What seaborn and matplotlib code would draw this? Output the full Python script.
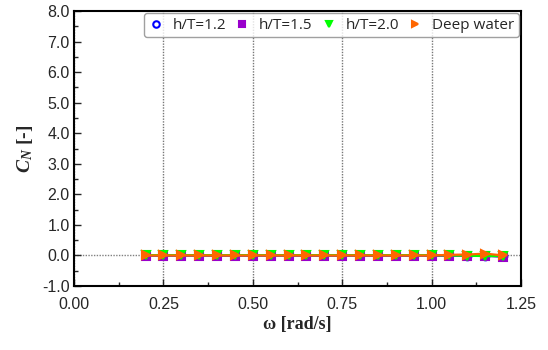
import numpy as np
import pandas as pd
import matplotlib
matplotlib.use("Agg")
import matplotlib.pyplot as plt
import seaborn as sns
from matplotlib.ticker import MultipleLocator, FormatStrFormatter

omega = [0.20, 0.25, 0.30, 0.35, 0.40, 0.45, 0.50, 0.55, 0.60, 0.65, 0.70,
         0.75, 0.80, 0.85, 0.90, 0.95, 1.00, 1.05, 1.10, 1.15, 1.20]
cn_12 = [0.0, 0.0, 0.0, 0.0, 0.0, 0.0, 0.0, 0.0, 0.0, 0.0, 0.0,
         0.0, 0.0, 0.0, 0.0, 0.0, 0.0, 0.0, -0.01, -0.01, -0.03]
cn_15 = [-0.01, -0.01, -0.01, -0.01, -0.01, -0.01, -0.01, -0.01, -0.01, -0.01, -0.01,
         -0.01, -0.01, -0.01, -0.01, -0.01, -0.01, -0.01, -0.01, -0.01, -0.04]
cn_20 = [0.01, 0.01, 0.01, 0.01, 0.01, 0.01, 0.01, 0.01, 0.01, 0.01, 0.01,
         0.01, 0.01, 0.01, 0.01, 0.01, 0.01, 0.0, -0.01, -0.02, -0.02]
cn_deep = [0.0, 0.0, 0.0, 0.0, 0.0, 0.0, 0.0, 0.0, 0.0, 0.0, 0.0,
           0.0, 0.0, 0.0, 0.0, 0.0, 0.0, 0.02, 0.03, 0.06, 0.0]
labels = ["h/T=1.2", "h/T=1.5", "h/T=2.0", "Deep water"]
colors = ["#0000ff", "#9900cc", "#00ff00", "#ff6600"]
markers = ["o", "s", "v", ">"]

frames = []
for lab, vals in zip(labels, [cn_12, cn_15, cn_20, cn_deep]):
    frames.append(pd.DataFrame({"omega": omega, "CN": vals, "case": lab}))
df = pd.concat(frames, ignore_index=True)

sns.set_style("white")
plt.rcParams["font.family"] = ["Liberation Sans", "DejaVu Sans"]
plt.rcParams["mathtext.fontset"] = "custom"
plt.rcParams["mathtext.it"] = "Liberation Serif:italic:bold"
plt.rcParams["mathtext.rm"] = "Liberation Serif:bold"

fig = plt.figure(figsize=(5.48, 3.5), dpi=100)
ax = fig.add_axes([74/548, 1-286/350, (521-74)/548, (286-11)/350])

for lab, col, mk in zip(labels, colors, markers):
    sub = df[df["case"] == lab]
    filled = lab != "h/T=1.2"
    sns.lineplot(data=sub, x="omega", y="CN", ax=ax, color=col, marker=mk,
                 markersize=5.5, linewidth=1.6, label=lab,
                 markerfacecolor=col if filled else "none",
                 markeredgecolor=col, markeredgewidth=1.5)

ax.axhline(0, color="gray", linestyle=(0, (1, 1)), linewidth=1, zorder=0)
ax.set_xlim(0, 1.25)
ax.set_ylim(-1, 8)
ax.xaxis.set_major_locator(MultipleLocator(0.25))
ax.xaxis.set_minor_locator(MultipleLocator(0.125))
ax.yaxis.set_major_locator(MultipleLocator(1.0))
ax.yaxis.set_minor_locator(MultipleLocator(0.5))
ax.xaxis.set_major_formatter(FormatStrFormatter("%.2f"))
ax.yaxis.set_major_formatter(FormatStrFormatter("%.1f"))
ax.grid(True, axis="x", which="major", color="#777777", linestyle=(0, (1, 1)), linewidth=1)
ax.tick_params(axis="both", which="major", direction="in", length=5, width=1,
               labelsize=11.5, left=True, bottom=True)
ax.tick_params(axis="x", which="major", pad=8)
ax.tick_params(axis="y", which="major", pad=3)
ax.tick_params(axis="both", which="minor", direction="in", length=3, width=1,
               left=True, bottom=True)
for lbl in ax.get_xticklabels() + ax.get_yticklabels():
    lbl.set_fontfamily(["Liberation Sans", "DejaVu Sans"])
for s in ax.spines.values():
    s.set_color("black")
    s.set_linewidth(1.5)

ax.set_xlabel("ω [rad/s]", fontsize=13, fontweight="bold",
              family=["Liberation Serif", "DejaVu Serif"], labelpad=3)
ax.set_ylabel(r"$C_N$ [-]", fontsize=14, fontweight="bold",
              family=["Liberation Serif", "DejaVu Serif"], labelpad=5)

leg = ax.legend(loc="upper right", ncol=4, frameon=True, fancybox=True,
                borderaxespad=0.15, handlelength=1.0, markerscale=0.85,
                handletextpad=0.6, columnspacing=0.55, borderpad=0.3,
                prop={"family": ["Open Sans", "DejaVu Sans"], "size": 11})
for line in leg.get_lines():
    line.set_linestyle("none")
leg.get_frame().set_edgecolor("#888888")
leg.get_frame().set_linewidth(1)

fig.savefig("out.png", dpi=100)
